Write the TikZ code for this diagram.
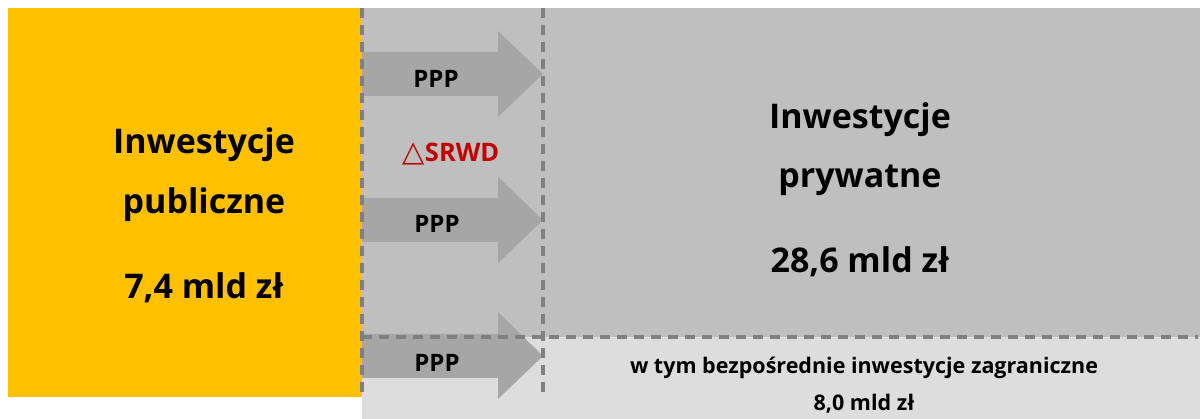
\documentclass[tikz,border=0pt]{standalone}
\usepackage{fontspec}
\setmainfont{Open Sans}
\newfontfamily\symfont{DejaVu Sans}
\definecolor{yel}{HTML}{FFC000}
\definecolor{midgray}{HTML}{BFBFBF}
\definecolor{lightgray}{HTML}{DDDDDD}
\definecolor{arrgray}{HTML}{A6A6A6}
\definecolor{dashgray}{HTML}{808080}
\definecolor{darkred}{HTML}{C00000}
\tikzset{
  bigtext/.style={font=\fontsize{34}{40}\selectfont\bfseries, align=center, inner sep=0pt},
  ppptext/.style={font=\fontsize{24}{28}\selectfont\bfseries, inner sep=0pt},
  smalltext/.style={font=\fontsize{21.5}{26}\selectfont\bfseries, inner sep=0pt},
  flow/.style={fill=arrgray, draw=none},
  sep/.style={draw=dashgray, line width=3.5pt, dash pattern=on 10pt off 7pt},
}
\begin{document}
\begin{tikzpicture}[x=1pt,y=-1pt]
\useasboundingbox (0,0) rectangle (1200,419);
% regions
\fill[yel] (8,8) rectangle (362,397);
\fill[midgray] (362,8) rectangle (1200,337);
\fill[lightgray] (362,337) rectangle (1200,419);
% arrows
\fill[flow] (362,52) -- (498,52) -- (498,31) -- (543,74) -- (498,117) -- (498,96) -- (362,96) -- cycle;
\fill[flow] (362,198) -- (498,198) -- (498,177) -- (543,220) -- (498,263) -- (498,242) -- (362,242) -- cycle;
\fill[flow] (362,334) -- (498,334) -- (498,312) -- (543,356) -- (498,399) -- (498,378) -- (362,378) -- cycle;
% dashed separators
\coordinate (v1t) at (362,8);
\coordinate (v1b) at (362,392);
\coordinate (v2t) at (543,8);
\coordinate (v2b) at (543,392);
\coordinate (h1l) at (362,337);
\coordinate (h1r) at (1198,337);
\draw[sep] (v1t) -- (v1b);
\draw[sep] (v2t) -- (v2b);
\draw[sep] (h1l) -- (h1r);
% texts
\node[bigtext] (pub1) at (204,145) {Inwestycje};
\node[bigtext] (pub2) at (204,205) {publiczne};
\node[bigtext] (pub3) at (204,288) {7,4 mld zł};
\node[bigtext] (prv1) at (860,120) {Inwestycje};
\node[bigtext] (prv2) at (860,180) {prywatne};
\node[bigtext] (prv3) at (860,262) {28,6 mld zł};
\node[ppptext] (ppp1) at (436,79) {PPP};
\node[ppptext] (ppp2) at (437,224) {PPP};
\node[ppptext] (ppp3) at (437,363) {PPP};
\node[ppptext, text=darkred, font=\fontsize{25.5}{28}\selectfont\bfseries] (srwd) at (451,154) {{\symfont\mdseries\fontsize{29}{30}\selectfont△}SRWD};
\node[smalltext] (fdi1) at (864,368) {w tym bezpośrednie inwestycje zagraniczne};
\node[smalltext] (fdi2) at (864,404) {8,0 mld zł};
\end{tikzpicture}
\end{document}
